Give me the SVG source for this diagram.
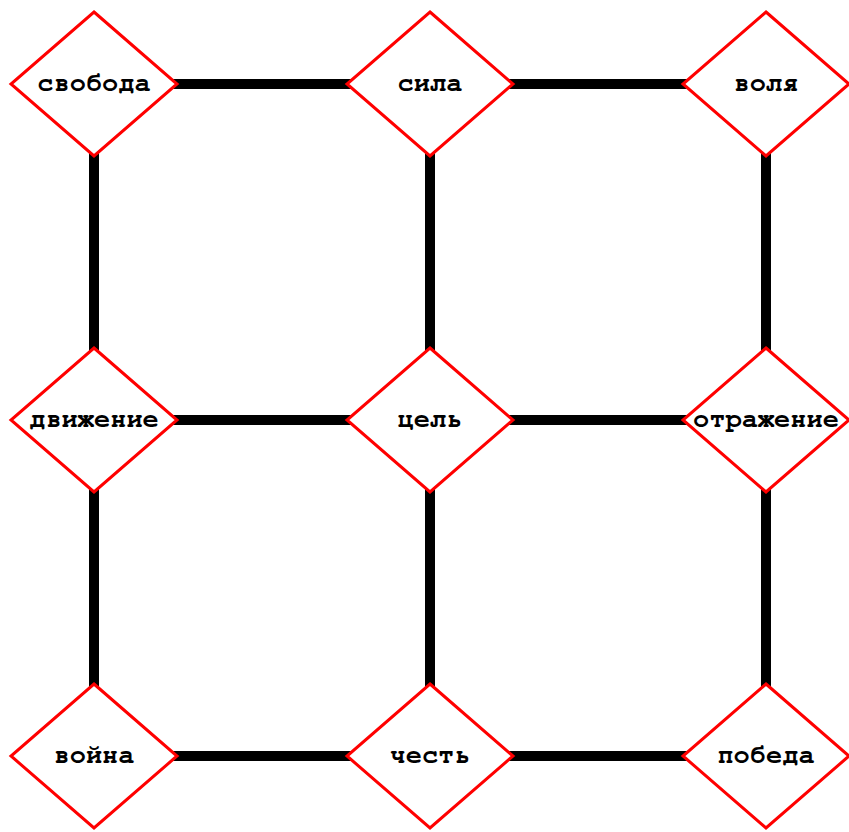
<svg xmlns="http://www.w3.org/2000/svg" width="849" height="832" viewBox="0 0 849 832">
<style>
.e{stroke:#000;stroke-width:10;fill:none}
.n polygon{fill:#fff;stroke:#f00;stroke-width:3}
.n text{font-family:"Nimbus Mono PS","FreeMono","Liberation Mono","DejaVu Sans Mono",monospace;font-weight:bold;font-size:27px;fill:#000;text-anchor:middle}
</style>
<rect width="849" height="832" fill="#fff"/>
<g id="edges">
<line class="e" x1="94" y1="84" x2="766" y2="84"/>
<line class="e" x1="94" y1="420" x2="766" y2="420"/>
<line class="e" x1="94" y1="756" x2="766" y2="756"/>
<line class="e" x1="94" y1="84" x2="94" y2="756"/>
<line class="e" x1="430" y1="84" x2="430" y2="756"/>
<line class="e" x1="766" y1="84" x2="766" y2="756"/>
</g>
<g id="n1" class="n" transform="translate(94,84)"><polygon points="0,-72 83,0 0,72 -83,0"/><text y="7">свобода</text></g>
<g id="n2" class="n" transform="translate(430,84)"><polygon points="0,-72 83,0 0,72 -83,0"/><text y="7">сила</text></g>
<g id="n3" class="n" transform="translate(766,84)"><polygon points="0,-72 83,0 0,72 -83,0"/><text y="7">воля</text></g>
<g id="n4" class="n" transform="translate(94,420)"><polygon points="0,-72 83,0 0,72 -83,0"/><text y="7">движение</text></g>
<g id="n5" class="n" transform="translate(430,420)"><polygon points="0,-72 83,0 0,72 -83,0"/><text y="7">цель</text></g>
<g id="n6" class="n" transform="translate(766,420)"><polygon points="0,-72 83,0 0,72 -83,0"/><text y="7">отражение</text></g>
<g id="n7" class="n" transform="translate(94,756)"><polygon points="0,-72 83,0 0,72 -83,0"/><text y="7">война</text></g>
<g id="n8" class="n" transform="translate(430,756)"><polygon points="0,-72 83,0 0,72 -83,0"/><text y="7">честь</text></g>
<g id="n9" class="n" transform="translate(766,756)"><polygon points="0,-72 83,0 0,72 -83,0"/><text y="7">победа</text></g>
</svg>
